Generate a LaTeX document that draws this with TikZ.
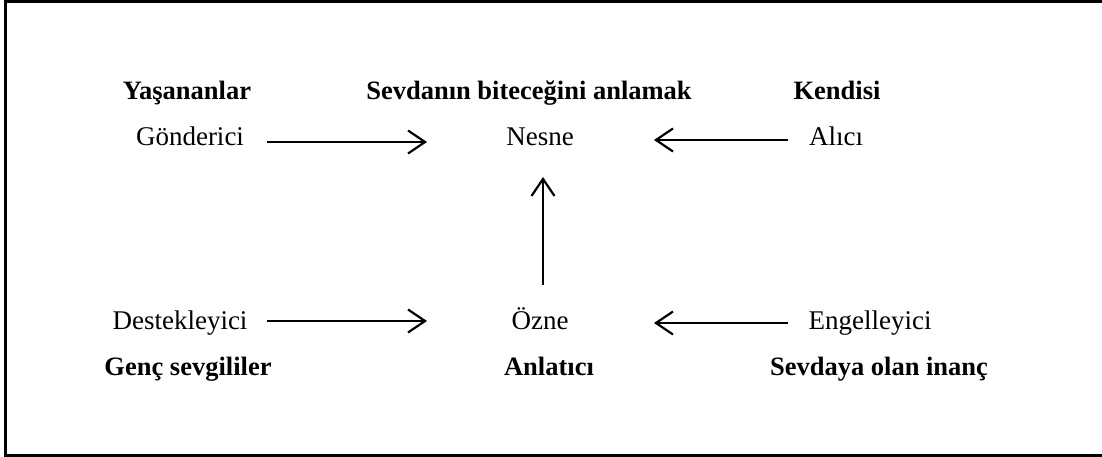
\documentclass[tikz,border=0pt]{standalone}
\usepackage{fontspec}
\setmainfont{Liberation Serif}
\usetikzlibrary{arrows.meta}
\begin{document}
\begin{tikzpicture}[x=1pt,y=-1pt,
  lbl/.style={anchor=base,inner sep=0pt,font=\fontsize{27}{31}\selectfont},
  role/.style={lbl,font=\fontsize{26.5}{31}\selectfont\bfseries},
  conn/.style={line width=2.2pt,-{Straight Barb[length=17pt,width=23pt,line width=2.2pt]}},
  frame/.style={line width=3pt}]
\useasboundingbox (0,0) rectangle (1102,457);
\draw[frame] (1102,1.5) -- (5.5,1.5) -- (5.5,455) -- (1102,455);
% top row
\node[role] (yas) at (187,100) {Yaşananlar};
\node[lbl]  (gon) at (190,146) {Gönderici};
\node[role] (sev) at (529,100) {Sevdanın biteceğini anlamak};
\node[lbl]  (nes) at (540,146) {Nesne};
\node[role] (ken) at (837,100) {Kendisi};
\node[lbl]  (ali) at (836,146) {Alıcı};
% bottom row
\node[lbl]  (des) at (180,329) {Destekleyici};
\node[role] (gen) at (188,375) {Genç sevgililer};
\node[lbl]  (ozn) at (540,329) {Özne};
\node[role] (anl) at (549,375) {Anlatıcı};
\node[lbl]  (eng) at (870,329) {Engelleyici};
\node[role] (ina) at (879,375) {Sevdaya olan inanç};
% connector ends
\coordinate (a1s) at (267,142);
\coordinate (a1e) at (427,142);
\coordinate (a2s) at (788,140);
\coordinate (a2e) at (654,140);
\coordinate (a3s) at (267,321);
\coordinate (a3e) at (427,321);
\coordinate (a4s) at (788,323);
\coordinate (a4e) at (654,323);
\coordinate (a5s) at (543,285);
\coordinate (a5e) at (543,177);
\draw[conn] (a1s) -- (a1e);
\draw[conn] (a2s) -- (a2e);
\draw[conn] (a3s) -- (a3e);
\draw[conn] (a4s) -- (a4e);
\draw[conn] (a5s) -- (a5e);
\end{tikzpicture}
\end{document}
